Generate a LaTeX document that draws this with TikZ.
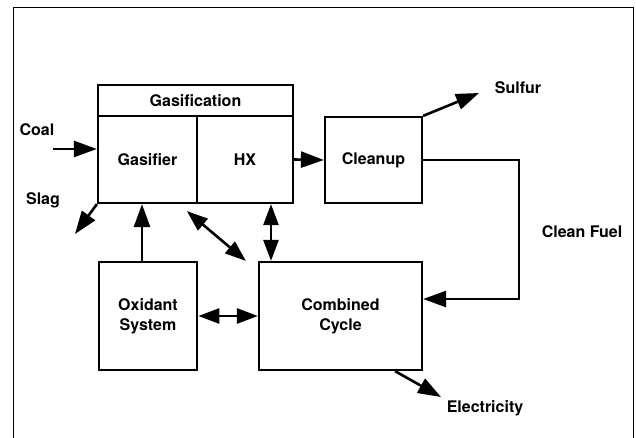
\documentclass[tikz,border=0pt]{standalone}
\usepackage{fontspec}
\setmainfont{TeX Gyre Heros}
\usetikzlibrary{arrows.meta}
\tikzset{
  box/.style={draw, line width=2.2pt, rectangle, inner sep=0pt, align=center,
    font=\fontsize{16}{20}\selectfont\bfseries},
  lbl/.style={inner sep=0pt, font=\fontsize{16}{20}\selectfont\bfseries},
  arr/.style={line width=2.6pt, -{Triangle[length=23pt,width=16pt]}},
  darr/.style={line width=2.6pt, {Triangle[length=21pt,width=15pt]}-{Triangle[length=21pt,width=15pt]}},
}
\begin{document}
\begin{tikzpicture}[x=1pt,y=1pt]
\useasboundingbox (0,0) rectangle (636,-438);
% frame
\draw[line width=0.9pt] (13,-450) -- (13,-7) -- (633,-7) -- (633,-450);
% boxes
\node[box, minimum width=195pt, minimum height=31pt] (title) at (195.5,-100.5) {Gasification};
\node[box, minimum width=99pt, minimum height=87pt] (gasifier) at (147.5,-159.5) {Gasifier};
\node[box, minimum width=96pt, minimum height=87pt] (hx) at (245,-159.5) {HX};
\node[box, minimum width=97pt, minimum height=86pt] (cleanup) at (373.5,-160) {Cleanup};
\node[box, minimum width=98.5pt, minimum height=108pt] (oxidant) at (148,-316) {Oxidant\\System};
\node[box, minimum width=163pt, minimum height=108pt] (cc) at (340.5,-316) {Combined\\Cycle};
% labels
\node[lbl] (coal) at (37,-130) {Coal};
\node[lbl] (slag) at (43,-200) {Slag};
\node[lbl] (sulfur) at (518,-88) {Sulfur};
\node[lbl] (fuel) at (582,-232) {Clean Fuel};
\node[lbl] (elec) at (485,-408) {Electricity};
% free ends
\coordinate (coalstart) at (53,-149);
\coordinate (slagend) at (75,-234);
\coordinate (sulfurend) at (479,-93);
\coordinate (elecend) at (441,-397);
% connectors
\draw[arr] (coalstart) -- (coalstart -| gasifier.west);
\draw[arr] (gasifier.south west) -- (slagend);
\draw[arr] (hx.east) -- (cleanup.west);
\draw[arr] (cleanup.north east) -- (sulfurend);
\draw[arr] (cleanup.east) -- ([xshift=96pt]cleanup.east) |- ([yshift=17pt]cc.east);
\draw[arr] ([xshift=-6pt]oxidant.north) -- ([xshift=-6pt]oxidant.north |- gasifier.south);
\draw[darr] ([xshift=26pt]hx.south) -- ([xshift=26pt]hx.south |- cc.north);
\draw[darr] ([xshift=-9pt,yshift=-7pt]hx.south west) -- ([xshift=-12pt]cc.north west);
\draw[darr] (oxidant.east) -- (cc.west);
\draw[arr] ([xshift=54.5pt]cc.south) -- (elecend);
\end{tikzpicture}
\end{document}
